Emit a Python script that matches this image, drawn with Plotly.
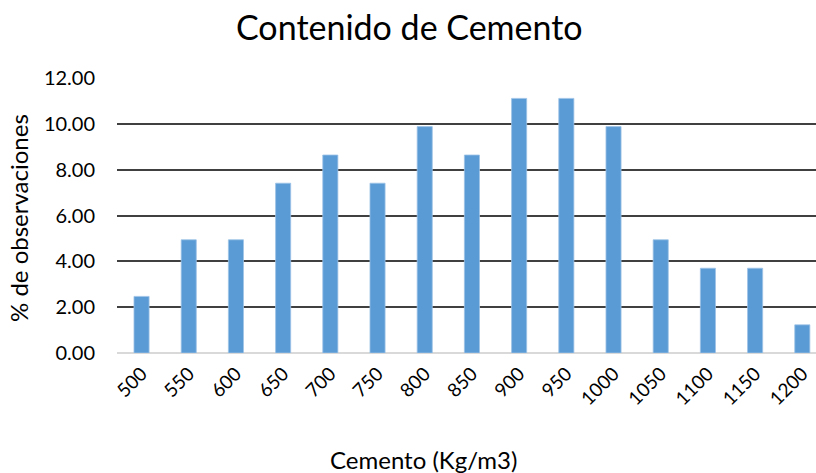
import plotly.graph_objects as go

categories = ["500", "550", "600", "650", "700", "750", "800", "850", "900", "950",
              "1000", "1050", "1100", "1150", "1200"]
values = [2.47, 4.94, 4.94, 7.41, 8.64, 7.41, 9.88, 8.64, 11.11, 11.11,
          9.88, 4.94, 3.70, 3.70, 1.23]
y_ticks = [0, 2, 4, 6, 8, 10, 12]
y_tick_labels = ["0.00", "2.00", "4.00", "6.00", "8.00", "10.00", "12.00"]

FONT = "Lato, 'Open Sans', sans-serif"

W, H = 816, 473
L, R, T = 117, 0, 78
B = H - 353
pw, ph = W - L - R, H - T - B


def px(x):
    return (x - L) / pw


def py(y):
    return (H - B - y) / ph


fig = go.Figure(go.Bar(
    x=categories, y=values,
    marker=dict(color="#5B9BD5", line=dict(color="#9DC3E6", width=0.8)),
))

fig.update_layout(
    width=W, height=H, autosize=False,
    margin=dict(l=L, r=R, t=T, b=B, pad=0),
    paper_bgcolor="white", plot_bgcolor="white",
    bargap=0.68,
    showlegend=False,
    font=dict(family=FONT, color="#000000"),
    annotations=[
        dict(text="Contenido de Cemento", x=px(409), y=py(27), xref="paper", yref="paper",
             xanchor="center", yanchor="middle", showarrow=False,
             font=dict(size=34, family=FONT)),
        dict(text="Cemento (Kg/m3)", x=px(423), y=py(459), xref="paper", yref="paper",
             xanchor="center", yanchor="middle", showarrow=False,
             font=dict(size=24, family=FONT)),
        dict(text="% de observaciones", x=px(19), y=py(218), xref="paper", yref="paper",
             xanchor="center", yanchor="middle", showarrow=False, textangle=-90,
             font=dict(size=24, family=FONT)),
    ],
)

fig.update_xaxes(
    type="category", range=[-0.52, 14.29], automargin=False,
    tickangle=-45, tickfont=dict(size=19),
    showgrid=False, showline=False, ticks="", ticklabelstandoff=5,
)
fig.update_yaxes(
    range=[0, 12], tickvals=y_ticks, ticktext=y_tick_labels, automargin=False,
    tickfont=dict(size=20),
    showgrid=True, gridcolor="#404040", gridwidth=1.5,
    zeroline=True, zerolinecolor="#D9D9D9", zerolinewidth=1.5,
    showline=False, ticks="", ticklabelstandoff=21,
)

fig.write_html("out.html",
               config={"displayModeBar": False},
               post_script="document.body.style.margin='0';document.body.style.overflow='hidden';")
